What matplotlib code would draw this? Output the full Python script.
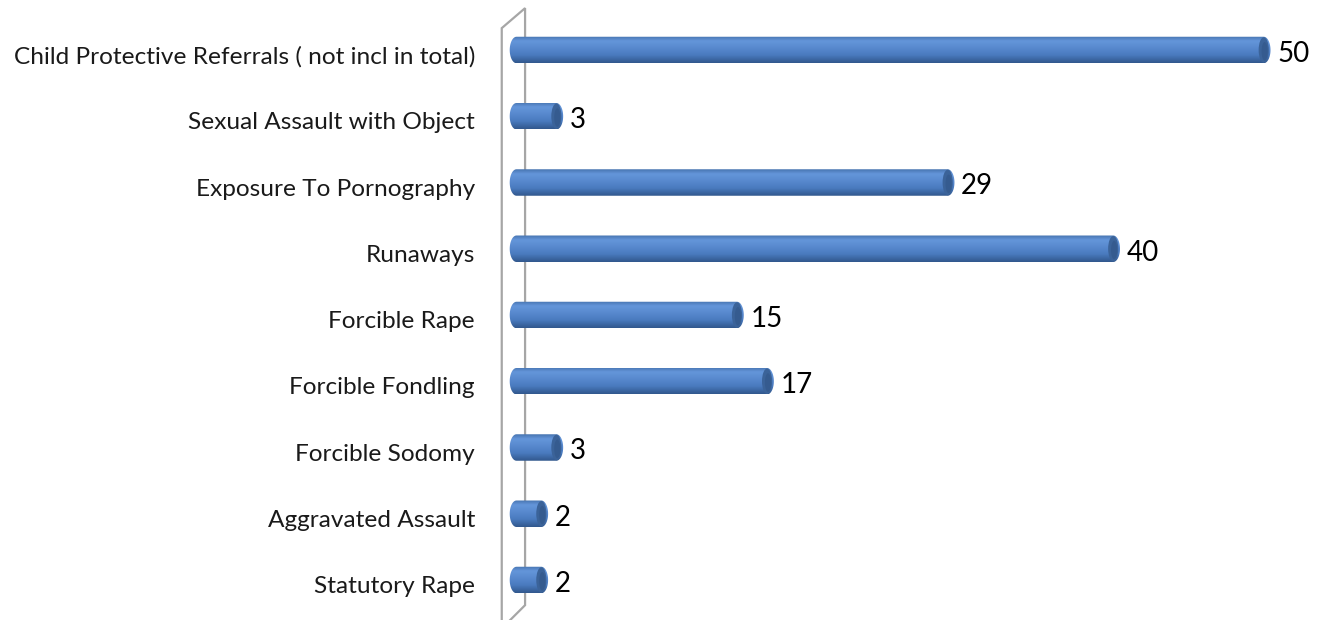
import numpy as np
import matplotlib
matplotlib.use("Agg")
import matplotlib.pyplot as plt
from matplotlib.path import Path
from matplotlib.patches import PathPatch, Ellipse, Polygon
from matplotlib.colors import LinearSegmentedColormap

# Categories listed bottom to top
categories = [
    "Statutory Rape",
    "Aggravated Assault",
    "Forcible Sodomy",
    "Forcible Fondling",
    "Forcible Rape",
    "Runaways",
    "Exposure To Pornography",
    "Sexual Assault with Object",
    "Child Protective Referrals ( not incl in total)",
]
counts = [2, 2, 3, 17, 15, 40, 29, 3, 50]

W, H, DPI = 1324, 620, 100
fig = plt.figure(figsize=(W / DPI, H / DPI), dpi=DPI)
ax = fig.add_axes([0, 0, 1, 1])

# pixel layout of the plot (value 0 at x=518, 15.05 px per unit; rows 66.25 px apart)
x0_px, px_per_unit = 518, 15.05
row0_px, row_step = 580, 66.25
xlim = (-x0_px / px_per_unit, (W - x0_px) / px_per_unit)
ylim = ((row0_px - H) / row_step, row0_px / row_step)

bar_h = 0.40      # bar thickness in row units
cap_a = 0.45      # half width of the cylinder end caps in value units

cyl_cmap = LinearSegmentedColormap.from_list(
    "cyl", [(0.0, "#4673ae"), (0.18, "#6496da"), (0.4, "#5a8bd0"),
            (0.7, "#4a7bbf"), (1.0, "#31578c")])
grad = np.linspace(0, 1, 256).reshape(-1, 1)


def cylinder_path(xa, xb, yc, h, a):
    """Outline of a horizontal cylinder with elliptical ends centred on xa and xb."""
    t1 = np.linspace(np.pi / 2, 3 * np.pi / 2, 40)
    left = np.column_stack([xa + a * np.cos(t1), yc + h / 2 * np.sin(t1)])
    t2 = np.linspace(-np.pi / 2, np.pi / 2, 40)
    right = np.column_stack([xb + a * np.cos(t2), yc + h / 2 * np.sin(t2)])
    verts = np.vstack([left, right, left[:1]])
    codes = [Path.MOVETO] + [Path.LINETO] * (len(verts) - 2) + [Path.CLOSEPOLY]
    return Path(verts, codes)


# back wall drawn as a thin slanted panel
wall_front = -1.08
wall_back = 0.47
wall_rise = 20 / row_step
wall = Polygon([(wall_front, ylim[0] - 0.1), (wall_front, 8.33),
                (wall_back, 8.33 + wall_rise), (wall_back, -0.38),
                (wall_front, -0.38 - wall_rise - 0.05)],
               closed=False, facecolor="white", edgecolor="#a6a6a6",
               linewidth=1.6, zorder=1)
ax.add_patch(wall)

for k, (name, v) in enumerate(zip(categories, counts)):
    xa, xb = -0.55 + cap_a, v - cap_a
    body = PathPatch(cylinder_path(xa, xb, k, bar_h, cap_a),
                     facecolor="none", edgecolor="none", zorder=3)
    ax.add_patch(body)
    img = ax.imshow(grad, cmap=cyl_cmap, aspect="auto", interpolation="bilinear",
                    extent=(-0.6, v, k - bar_h / 2, k + bar_h / 2),
                    origin="upper", zorder=3)
    img.set_clip_path(body)
    # darker end face of the cylinder
    ax.add_patch(Ellipse((xb, k), 2 * cap_a * 0.75, bar_h * 0.96,
                         facecolor="#3b6399", edgecolor="none", zorder=4))
    ax.add_patch(Ellipse((xb + 0.06, k - 0.02), 2 * cap_a * 0.45, bar_h * 0.7,
                         facecolor="#355b8f", edgecolor="none", zorder=4))

    ax.text(-2.86, k - 0.1, name, ha="right", va="center",
            fontsize=17.6, family="Lato", color="#1a1a1a")
    ax.text(v + 0.45, k - 0.06, str(v), ha="left", va="center",
            fontsize=20, family="Lato", color="black")

ax.set_xlim(*xlim)
ax.set_ylim(*ylim)
ax.axis("off")

fig.savefig("out.png", dpi=DPI, facecolor="white")
